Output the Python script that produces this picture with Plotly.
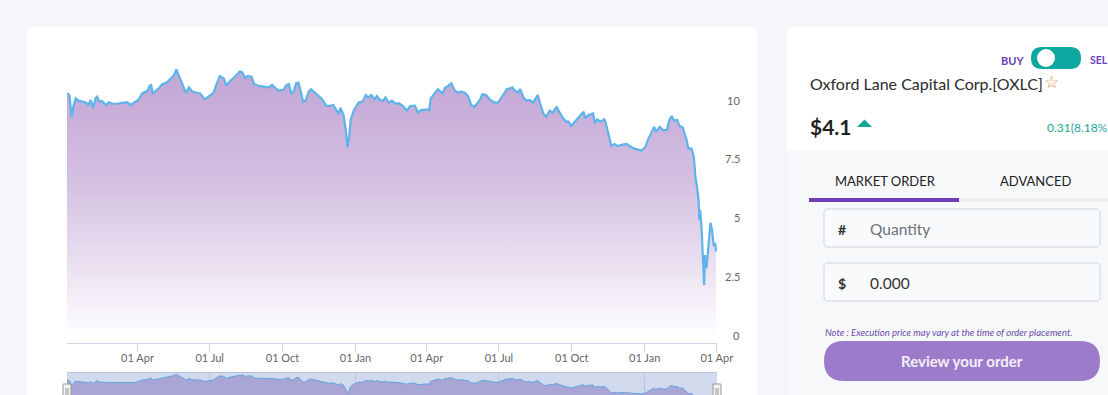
import plotly.graph_objects as go

# ---------------- data ----------------
dates = [
    "2018-01-02", "2018-01-05", "2018-01-08", "2018-01-10", "2018-01-13", "2018-01-17", "2018-01-21",
    "2018-01-26", "2018-01-29", "2018-02-01", "2018-02-04", "2018-02-07", "2018-02-09", "2018-02-12",
    "2018-02-15", "2018-02-20", "2018-02-24", "2018-02-28", "2018-03-06", "2018-03-13", "2018-03-19",
    "2018-03-23", "2018-03-27", "2018-04-02", "2018-04-07", "2018-04-13", "2018-04-16", "2018-04-18",
    "2018-04-20", "2018-04-24", "2018-04-28", "2018-05-02", "2018-05-08", "2018-05-13", "2018-05-17",
    "2018-05-20", "2018-05-23", "2018-05-26", "2018-05-29", "2018-06-01", "2018-06-05", "2018-06-09",
    "2018-06-15", "2018-06-19", "2018-06-25", "2018-06-30", "2018-07-06", "2018-07-10", "2018-07-14",
    "2018-07-19", "2018-07-22", "2018-07-26", "2018-07-31", "2018-08-04", "2018-08-08", "2018-08-11",
    "2018-08-15", "2018-08-18", "2018-08-23", "2018-08-26", "2018-09-01", "2018-09-07", "2018-09-13",
    "2018-09-18", "2018-09-22", "2018-09-27", "2018-10-02", "2018-10-06", "2018-10-09", "2018-10-12",
    "2018-10-15", "2018-10-18", "2018-10-21", "2018-10-24", "2018-10-27", "2018-10-30", "2018-11-03",
    "2018-11-06", "2018-11-09", "2018-11-14", "2018-11-20", "2018-11-25", "2018-11-28", "2018-12-04",
    "2018-12-08", "2018-12-11", "2018-12-13", "2018-12-17", "2018-12-20", "2018-12-22", "2018-12-24",
    "2018-12-26", "2018-12-30",
    "2019-01-05", "2019-01-10", "2019-01-14", "2019-01-17", "2019-01-21", "2019-01-25", "2019-01-28",
    "2019-02-01", "2019-02-05", "2019-02-08", "2019-02-12", "2019-02-16", "2019-02-20", "2019-02-25",
    "2019-03-02", "2019-03-07", "2019-03-11", "2019-03-17", "2019-03-21", "2019-03-25", "2019-03-31",
    "2019-04-04", "2019-04-06", "2019-04-11", "2019-04-15", "2019-04-21", "2019-04-24", "2019-04-28",
    "2019-05-02", "2019-05-06", "2019-05-10", "2019-05-14", "2019-05-19", "2019-05-23", "2019-05-27",
    "2019-05-31", "2019-06-04", "2019-06-08", "2019-06-10", "2019-06-15", "2019-06-20", "2019-06-25",
    "2019-06-30", "2019-07-05", "2019-07-11", "2019-07-15", "2019-07-18", "2019-07-21", "2019-07-25",
    "2019-07-28", "2019-08-01", "2019-08-05", "2019-08-09", "2019-08-13", "2019-08-19", "2019-08-22",
    "2019-08-26", "2019-08-30", "2019-09-03", "2019-09-07", "2019-09-12", "2019-09-14", "2019-09-20",
    "2019-09-24", "2019-09-27", "2019-09-30", "2019-10-05", "2019-10-10", "2019-10-16", "2019-10-18",
    "2019-10-22", "2019-10-28", "2019-10-30", "2019-11-02", "2019-11-06", "2019-11-11", "2019-11-13",
    "2019-11-16", "2019-11-20", "2019-11-24", "2019-11-28", "2019-12-03", "2019-12-09", "2019-12-13",
    "2019-12-18", "2019-12-23", "2019-12-28",
    "2020-01-02", "2020-01-05", "2020-01-09", "2020-01-13", "2020-01-15", "2020-01-20", "2020-01-24",
    "2020-01-29", "2020-02-01", "2020-02-04", "2020-02-07", "2020-02-11", "2020-02-14", "2020-02-18",
    "2020-02-21", "2020-02-23", "2020-02-25", "2020-02-29", "2020-03-03", "2020-03-05", "2020-03-07",
    "2020-03-09", "2020-03-10", "2020-03-11", "2020-03-13", "2020-03-14", "2020-03-16", "2020-03-17",
    "2020-03-19", "2020-03-21", "2020-03-24", "2020-03-26", "2020-03-28", "2020-03-30", "2020-03-31",
]
prices = [
    10.29, 10.21, 9.26, 9.72, 10.07, 9.96, 9.93,
    9.89, 9.79, 10.00, 9.65, 10.07, 10.14, 9.93,
    9.96, 9.79, 9.90, 9.84, 9.84, 9.89, 9.91,
    9.79, 9.86, 10.00, 10.28, 10.38, 10.57, 10.67,
    10.28, 10.40, 10.50, 10.67, 10.74, 10.92, 11.06,
    11.30, 11.06, 10.78, 10.50, 10.31, 10.54, 10.36,
    10.31, 10.28, 10.03, 10.17, 10.31, 10.71, 11.02,
    10.92, 10.60, 10.78, 10.92, 11.06, 11.21, 11.18,
    10.92, 11.02, 10.99, 10.68, 10.60, 10.57, 10.54,
    10.64, 10.50, 10.40, 10.43, 10.64, 10.68, 10.28,
    10.36, 10.71, 10.74, 10.36, 9.93, 9.97, 10.36,
    10.46, 10.36, 10.21, 10.03, 9.76, 9.74, 9.79,
    9.57, 9.40, 9.67, 9.36, 8.65, 7.99, 8.44,
    9.15, 9.57,
    9.89, 9.93, 10.21, 10.11, 10.21, 10.03, 10.17,
    10.00, 9.97, 10.11, 9.89, 9.97, 9.86, 9.86,
    9.74, 9.55, 9.74, 9.76, 9.46, 9.57, 9.60,
    9.57, 10.07, 10.28, 10.46, 10.28, 10.52, 10.60,
    10.71, 10.43, 10.31, 10.36, 10.31, 10.17, 9.79,
    9.72, 9.86, 10.07, 10.24, 10.21, 10.00, 9.90,
    9.89, 10.14, 10.46, 10.50, 10.54, 10.40, 10.33,
    10.46, 10.11, 9.97, 10.00, 9.89, 10.21, 9.86,
    9.43, 9.29, 9.55, 9.46, 9.72, 9.57, 9.22,
    9.08, 9.08, 8.89, 9.08, 9.26, 9.50, 9.22,
    9.36, 9.43, 9.01, 9.18, 9.08, 9.18, 9.01,
    8.58, 8.04, 8.13, 8.04, 8.09, 8.13, 8.04,
    7.94, 7.90, 7.84,
    8.01, 8.30, 8.58, 8.86, 8.65, 8.86, 8.72,
    8.72, 9.15, 9.32, 9.12, 9.15, 8.89, 8.84,
    8.51, 8.30, 7.94, 7.94, 7.59, 6.74, 6.31,
    5.74, 4.89, 5.32, 4.40, 3.48, 2.13, 3.40,
    2.84, 3.62, 4.78, 4.47, 3.83, 3.87, 3.55,
]
y_ticks = [0, 2.5, 5, 7.5, 10]
y_tick_labels = ["0", "2.5", "5", "7.5", "10"]
x_range = ["2018-01-02", "2020-04-01 06:00"]

# ---------------- geometry helpers (pixel -> paper) ----------------
W, H = 1108, 395
L, R = 67, 717
PW = R - L


def px(x):
    return (x - L) / PW


def py(y):
    return (H - y) / H


def rrect(x0, y0, x1, y1, r):
    pts = [
        ("M", [(x0 + r, y0)]), ("L", [(x1 - r, y0)]), ("Q", [(x1, y0), (x1, y0 + r)]),
        ("L", [(x1, y1 - r)]), ("Q", [(x1, y1), (x1 - r, y1)]), ("L", [(x0 + r, y1)]),
        ("Q", [(x0, y1), (x0, y1 - r)]), ("L", [(x0, y0 + r)]), ("Q", [(x0, y0), (x0 + r, y0)]),
    ]
    s = ""
    for cmd, ps in pts:
        s += cmd + " " + " ".join(f"{px(a):.5f},{py(b):.5f}" for a, b in ps) + " "
    return s + "Z"


shapes = []


def add_path(path, fill, line_color=None, line_width=0, layer="below"):
    shapes.append(dict(type="path", path=path, xref="paper", yref="paper", fillcolor=fill,
                       line=dict(color=line_color or fill, width=line_width), layer=layer))


def add_rect(x0, y0, x1, y1, fill, line_color=None, line_width=0, layer="below"):
    shapes.append(dict(type="rect", xref="paper", yref="paper", x0=px(x0), x1=px(x1),
                       y0=py(y1), y1=py(y0), fillcolor=fill,
                       line=dict(color=line_color or fill, width=line_width), layer=layer))


annotations = []


def ann(text, x, y, size, color, xanchor="left", family="Lato", yref="paper"):
    annotations.append(dict(text=text, x=px(x), y=(py(y) if yref == "paper" else y),
                            xref="paper", yref=yref, xanchor=xanchor, yanchor="middle",
                            showarrow=False, font=dict(family=family, size=size, color=color)))


# ---------------- cards ----------------
add_path(rrect(27, 27, 757, 440, 4), "#ffffff")
add_path(rrect(787, 27, 1140, 440, 4), "#ffffff")
add_rect(787, 150, 1140, 440, "#f7f8fa")

# ---------------- chart traces ----------------
fig = go.Figure()
purple = "190,160,210"
fig.add_trace(go.Scatter(
    x=dates, y=prices, mode="lines", xaxis="x", yaxis="y",
    line=dict(color="#5db3ea", width=2.2),
    fill="tozeroy",
    fillgradient=dict(type="vertical", start=0, stop=12,
                      colorscale=[[0, f"rgba({purple},0.02)"], [0.19, f"rgba({purple},0.25)"],
                                  [0.52, f"rgba({purple},0.64)"], [0.83, f"rgba({purple},0.87)"],
                                  [1, f"rgba({purple},0.96)"]]),
    hoverinfo="skip", showlegend=False,
))
# navigator series
fig.add_trace(go.Scatter(
    x=dates, y=prices, mode="lines", xaxis="x2", yaxis="y2",
    line=dict(color="#5db3ea", width=1), fill="tozeroy", fillcolor="#c6b3dc",
    hoverinfo="skip", showlegend=False,
))

# y tick labels (right, right-aligned)
for v, t in zip(y_ticks, y_tick_labels):
    ann(t, 742, v, 11, "#666666", xanchor="right", yref="y")

# navigator mask, outline and handles
add_rect(L, 372, R, 420, "rgba(102,133,194,0.3)", layer="above")
shapes.append(dict(type="line", xref="paper", yref="paper", x0=px(L), x1=px(R), y0=py(372.5), y1=py(372.5),
                   line=dict(color="#b5c1dd", width=1), layer="above"))
for hx in (L - 4, R - 4):
    add_rect(hx, 384, hx + 8, 402, "#f2f2f2", line_color="#999999", line_width=1, layer="above")
    for lx in (hx + 3, hx + 5):
        shapes.append(dict(type="line", xref="paper", yref="paper", x0=px(lx), x1=px(lx),
                           y0=py(388), y1=py(396), line=dict(color="#999999", width=1), layer="above"))

# ---------------- right panel (visible part, clipped at the window edge as in the reference) ----------------
ann("<b>BUY</b>", 999, 60, 11, "#6a3fb8")
add_path(rrect(1031, 47, 1081, 69, 11), "#0aa89e", layer="above")
shapes.append(dict(type="circle", xref="paper", yref="paper", x0=px(1037), x1=px(1055), y0=py(67), y1=py(49),
                   fillcolor="#ffffff", line=dict(color="#ffffff", width=0), layer="above"))
ann("<b>SEL</b>", 1088, 60, 10.5, "#6a3fb8")
ann("Oxford Lane Capital Corp.[OXLC]", 808, 83, 16, "#2b2b2b")
ann("☆", 1042, 82, 17, "#f08c3c", family="DejaVu Sans")
ann("<b>$4.1</b>", 808, 126, 21, "#222222")
add_path(f"M {px(857):.5f},{py(127):.5f} L {px(872):.5f},{py(127):.5f} L {px(864.5):.5f},{py(119.5):.5f} Z",
         "#12a595", layer="above")
ann("0.31(8.18%", 1045, 127, 12, "#26a69a")

ann("MARKET ORDER", 833, 181, 13, "#222222")
ann("ADVANCED", 998, 181, 13, "#222222")
add_rect(809, 198, 1140, 202, "#eceef2", layer="above")
add_rect(809, 198, 959, 202, "#6c3fb8", layer="above")

add_path(rrect(824, 209, 1100, 247, 4), "#f9fafc", line_color="#cfd6df", line_width=1, layer="above")
ann("<b>#</b>", 836, 229, 14, "#333333")
ann("Quantity", 868, 229, 15.5, "#6b7079")
add_path(rrect(824, 263, 1100, 301, 4), "#f9fafc", line_color="#cfd6df", line_width=1, layer="above")
ann("<b>$</b>", 836, 283, 14, "#333333")
ann("0.000", 868, 283, 15.5, "#333333")

ann("<i>Note : Execution price may vary at the time of order placement.</i>", 823, 332, 9.5, "#6a4aa8")
add_path(rrect(824, 341, 1100, 381, 20), "#9c7bcb", layer="above")
ann("<b>Review your order</b>", 962, 361, 15, "#f4effa", xanchor="center")

fig.update_layout(
    width=W, height=H, autosize=False,
    margin=dict(l=L, r=W - R, t=0, b=0, pad=0),
    paper_bgcolor="#f5f6fa", plot_bgcolor="rgba(0,0,0,0)",
    showlegend=False, shapes=shapes, annotations=annotations,
    xaxis=dict(domain=[0, 1], anchor="y", type="date", range=x_range, tickformat="%d %b",
               dtick="M3", tick0="2018-01-01", ticks="outside", ticklen=8, tickcolor="#ccd6eb",
               ticklabelstandoff=-3,
               showline=True, linecolor="#ccd6eb", linewidth=1, showgrid=False, zeroline=False,
               tickfont=dict(family="Lato", size=11, color="#666666")),
    yaxis=dict(domain=[py(343), py(45)], anchor="x", range=[-8 / 23.5, (335 - 45) / 23.5],
               showticklabels=False, showgrid=False, zeroline=False, showline=False),
    xaxis2=dict(domain=[0, 1], anchor="y2", type="date", range=x_range, showticklabels=False,
                ticks="", showgrid=True, gridcolor="#dfe3ec", dtick="M6", tick0="2018-01-01",
                zeroline=False, showline=False, layer="above traces"),
    yaxis2=dict(domain=[0, py(372)], anchor="x2", range=[7.67, 11.7], showticklabels=False,
                showgrid=False, zeroline=False, showline=False),
)

fig.write_html("out.html", config={"displayModeBar": False})
